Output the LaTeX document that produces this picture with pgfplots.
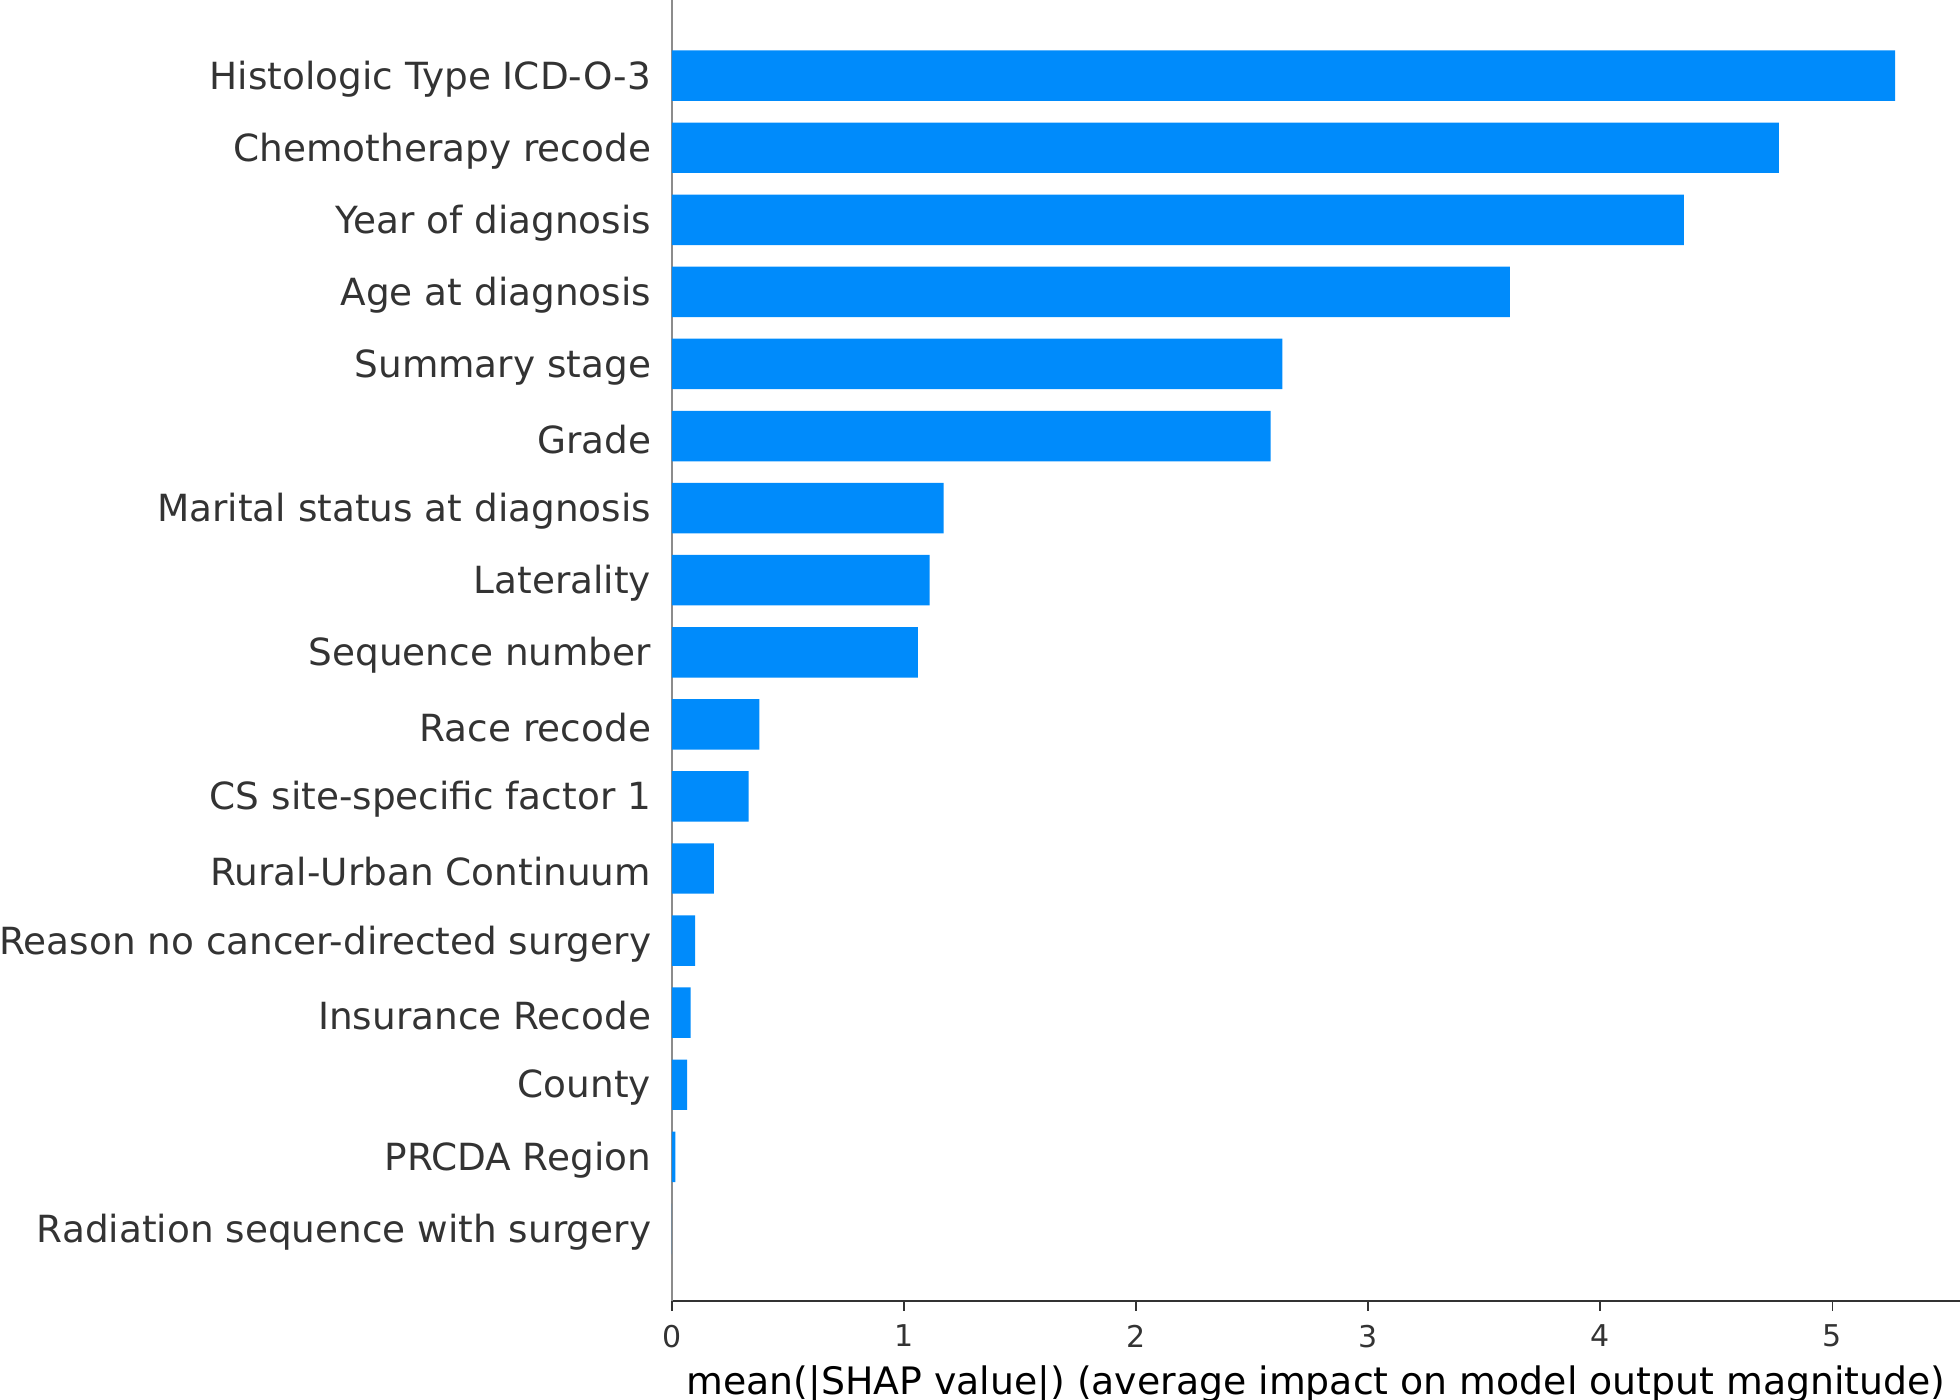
\documentclass[border=0pt]{standalone}
\usepackage{fontspec}
\setmainfont{DejaVu Sans}
\usepackage{pgfplots}
\pgfplotsset{compat=1.18}
\definecolor{shapblue}{RGB}{0,139,251}
\definecolor{txt}{HTML}{333333}
\begin{document}
\begin{tikzpicture}
\begin{axis}[
  scale only axis, width=322pt, height=325.25pt,
  xmin=0, xmax=5.55, ymin=-1, ymax=17.05,
  xbar, bar width=0.7,
  axis x line*=bottom, axis y line*=left,
  x axis line style={draw=black!80, line width=0.5pt},
  y axis line style={draw=black!45, line width=0.4pt},
  xtick={0,1,2,3,4,5},
  ytick={0,...,16},
  yticklabels={Radiation sequence with surgery, PRCDA Region, County, Insurance Recode, Reason no cancer-directed surgery, Rural-Urban Continuum, CS site-specific factor 1, Race recode, Sequence number, Laterality, Marital status at diagnosis, Grade, Summary stage, Age at diagnosis, Year of diagnosis, Chemotherapy recode, Histologic Type ICD-O-3},
  tick align=outside, major tick length=2.5pt,
  y tick style={draw=none},
  x tick style={draw=black!80, line width=0.4pt},
  /pgf/number format/assume math mode=true,
  xticklabel style={font=\fontsize{7.5}{9}\selectfont, text=txt},
  yticklabel style={font=\fontsize{9.35}{11}\selectfont, text=txt, xshift=0.8pt, yshift=-0.8pt},
  xlabel={mean(|SHAP value|) (average impact on model output magnitude)},
  xlabel style={font=\fontsize{9.45}{11}\selectfont, text=black, yshift=2.5pt},
]
\addplot[fill=shapblue, draw=none] coordinates {
(0,0) (0.015,1) (0.065,2) (0.08,3) (0.10,4) (0.18,5) (0.33,6) (0.377,7)
(1.06,8) (1.11,9) (1.17,10) (2.58,11) (2.63,12) (3.61,13) (4.36,14) (4.77,15) (5.27,16)
};
\end{axis}
\pgfresetboundingbox
\path (-168pt,-24.75pt) rectangle (322pt,325.25pt);
\end{tikzpicture}
\end{document}
